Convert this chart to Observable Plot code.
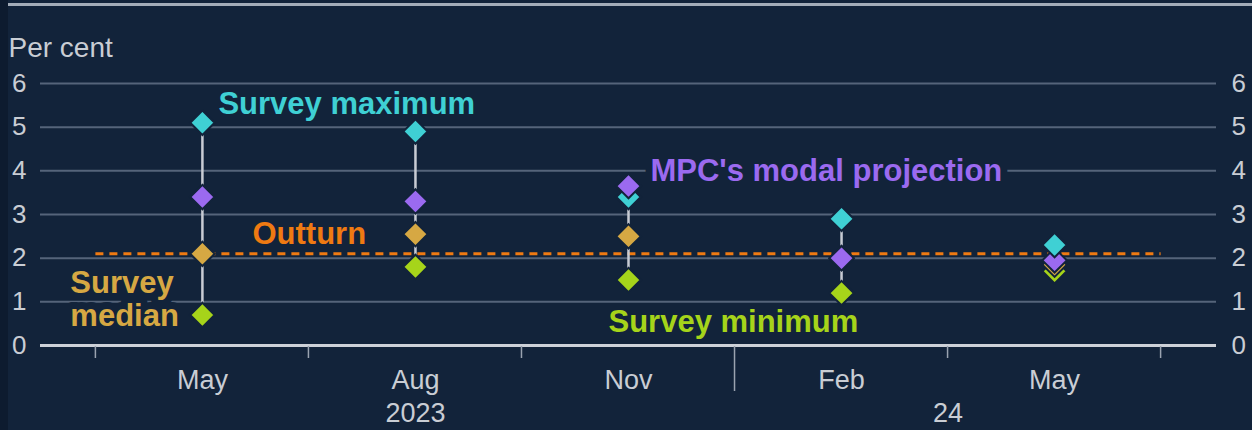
<!DOCTYPE html>
<html>
<head>
<meta charset="utf-8">
<script src="https://cdn.jsdelivr.net/npm/d3@7"></script>
<script src="https://cdn.jsdelivr.net/npm/@observablehq/plot@0.6"></script>
<style>
  html, body { margin: 0; padding: 0; background: #12233a; }
  #wrap { position: relative; width: 1252px; height: 430px; background: #12233a; overflow: hidden; }
  #strip { position: absolute; left: 0; top: 0; width: 8px; height: 430px; background: #0d1b2f; }
  #topline { position: absolute; left: 8px; top: 3px; width: 1244px; height: 3px; background: #a3acb8; }
  #chart { position: absolute; left: 0; top: 0; }
  svg { font-family: "Liberation Sans", Arial, sans-serif; }
</style>
</head>
<body>
<div id="wrap"><div id="strip"></div><div id="topline"></div><div id="chart"></div></div>
<script>
// ---- data ----
const quarters = ["May", "Aug", "Nov", "Feb", "May"];
const yearLabels = ["2023", "24"];
const yearAt = [1, 3.5];
const surveyMax = [5.1, 4.9, 3.4, 2.9, 2.3];
const mpcModal = [3.4, 3.3, 3.65, 2.0, 1.95];
const surveyMedian = [2.1, 2.55, 2.5, 2.0, 1.85];
const surveyMin = [0.7, 1.8, 1.5, 1.2, 1.7];
const outturn = 2.1;
const yTicks = [0, 1, 2, 3, 4, 5, 6];
const seriesNames = ["Survey minimum", "Survey median", "MPC's modal projection", "Survey maximum"];

// ---- styles ----
const bg = "#12233a";
const colors = {
  "Survey maximum": "#3fd0d4",
  "MPC's modal projection": "#9b6af0",
  "Survey median": "#d6a843",
  "Survey minimum": "#a6d41a"
};
const outturnColor = "#ef7a12";
const textGrey = "#c9cdd4";

// long table, sorted so higher values sit on top
const idx = quarters.map((_, i) => i);
const seriesValues = {
  "Survey minimum": surveyMin,
  "Survey median": surveyMedian,
  "MPC's modal projection": mpcModal,
  "Survey maximum": surveyMax
};
const points = [];
seriesNames.forEach((s, k) => idx.forEach(i => points.push({i, v: seriesValues[s][i], s, k})));
points.sort((a, b) => a.v - b.v || a.k - b.k);

// annotation placement (data space); "halo" labels knock out the gridline behind them
const labels = [
  {text: "Survey maximum", x: 0.075, y: 5.54, s: "Survey maximum", halo: false},
  {text: "MPC's modal projection", x: 2.103, y: 4.0, s: "MPC's modal projection", halo: true},
  {text: "Outturn", x: 0.235, y: 2.56, c: outturnColor, halo: false},
  {text: "Survey minimum", x: 1.906, y: 0.55, s: "Survey minimum", halo: false},
  {text: "Survey\nmedian", x: -0.62, y: 1.065, s: "Survey median", halo: true}
];

const boundaries = [-0.5, 0.5, 1.5, 2.5, 3.5, 4.5];
const labelStyle = {
  x: "x", y: "y", text: "text", textAnchor: "start", lineAnchor: "middle",
  fill: d => d.c || colors[d.s], fontSize: 31, fontWeight: "bold", lineHeight: 1.065
};

const chart = Plot.plot({
  width: 1252,
  height: 430,
  marginLeft: 40,
  marginRight: 36,
  marginTop: 83,
  marginBottom: 85,
  style: {background: "transparent", color: textGrey, fontFamily: "Liberation Sans, Arial, sans-serif"},
  x: {type: "linear", domain: [-0.76, 4.76], axis: null},
  y: {type: "linear", domain: [0, 6], axis: null},
  marks: [
    Plot.ruleY(yTicks.filter(d => d > 0), {stroke: "#55647a", strokeWidth: 2}),
    Plot.ruleY([outturn], {x1: boundaries[0], x2: boundaries[boundaries.length - 1], stroke: outturnColor, strokeWidth: 3, strokeDasharray: "8,6"}),
    Plot.text(labels.filter(d => d.halo), {...labelStyle, stroke: bg, strokeWidth: 14}),
    Plot.text(labels.filter(d => !d.halo), labelStyle),
    Plot.ruleY([0], {stroke: "#cdd1d8", strokeWidth: 3}),
    Plot.ruleX(idx, {x: d => d, y1: d => surveyMin[d], y2: d => surveyMax[d], stroke: "#c8ccd4", strokeWidth: 2.5}),
    Plot.dot(points, {x: "i", y: "v", symbol: "diamond2", r: 11, fill: d => colors[d.s], stroke: bg, strokeWidth: 2}),
    // month labels
    Plot.text(idx, {x: d => d, frameAnchor: "bottom", lineAnchor: "middle", dy: 35, text: d => quarters[d], fill: textGrey, fontSize: 27}),
    // year labels
    Plot.text(yearLabels, {x: (d, j) => yearAt[j], frameAnchor: "bottom", lineAnchor: "middle", dy: 68, text: d => d, fill: textGrey, fontSize: 27}),
    // y labels left & right
    Plot.text(yTicks, {y: d => d, frameAnchor: "left", lineAnchor: "middle", dx: -14, textAnchor: "end", text: d => String(d), fill: textGrey, fontSize: 26}),
    Plot.text(yTicks, {y: d => d, frameAnchor: "right", lineAnchor: "middle", dx: 15, textAnchor: "start", text: d => String(d), fill: textGrey, fontSize: 26}),
    Plot.text(["Per cent"], {frameAnchor: "top-left", lineAnchor: "middle", dx: -32, dy: -35, textAnchor: "start", text: d => d, fill: textGrey, fontSize: 28})
  ]
});

// x tick lines below the axis, positioned through the plot's scales
const xs = chart.scale("x"), ys = chart.scale("y");
const svg = d3.select(chart);
const y0 = ys.apply(0);
svg.append("g").selectAll("line").data(boundaries).join("line")
  .attr("x1", d => xs.apply(d)).attr("x2", d => xs.apply(d))
  .attr("y1", y0 + 1).attr("y2", d => y0 + (d === 2.5 ? 46 : 13))
  .attr("stroke", "#9aa3b0").attr("stroke-width", 1.5);

document.getElementById("chart").appendChild(chart);
</script>
</body>
</html>
